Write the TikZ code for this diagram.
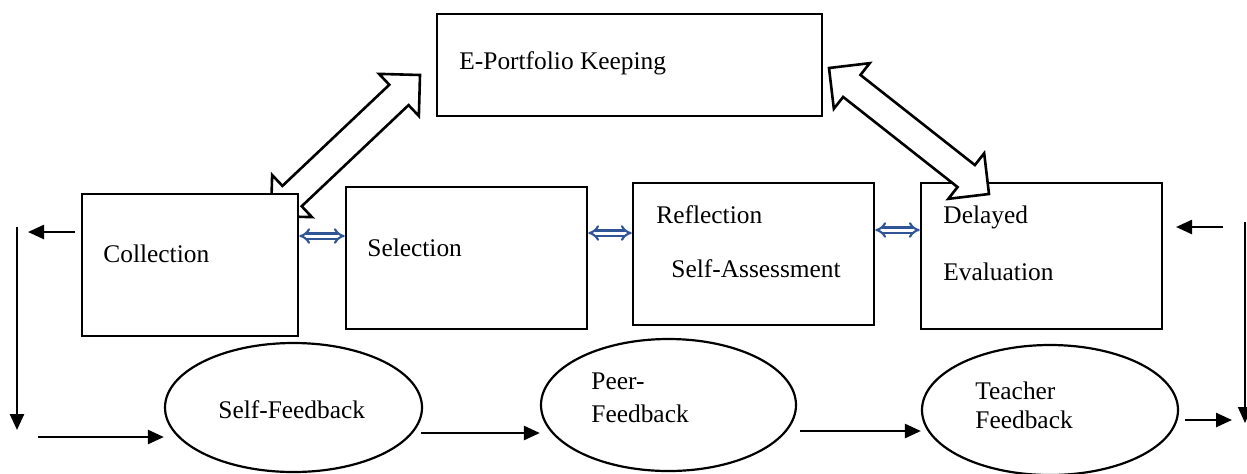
\documentclass[tikz,border=0pt]{standalone}
\usepackage{fontspec}
\setmainfont{Liberation Serif}
\usetikzlibrary{calc,arrows.meta,shapes.geometric}
\definecolor{dblue}{HTML}{2F5597}
\newcommand\dblblock[2]{%
  \coordinate (#1h) at ($(#1)!14.5pt!(#2)$);
  \coordinate (#2h) at ($(#2)!14.5pt!(#1)$);
  \draw[blk] (#1) -- ($(#1h)!14.5pt!90:(#2)$) -- ($(#1h)!7pt!90:(#2)$)
    -- ($(#2h)!7pt!-90:(#1)$) -- ($(#2h)!14.5pt!-90:(#1)$) -- (#2)
    -- ($(#2h)!14.5pt!90:(#1)$) -- ($(#2h)!7pt!90:(#1)$)
    -- ($(#1h)!7pt!-90:(#2)$) -- ($(#1h)!14.5pt!-90:(#2)$) -- cycle;}
\begin{document}
\begin{tikzpicture}[x=0.5pt,y=-0.5pt,
  box/.style={draw, line width=1.3pt, fill=white, rectangle, inner sep=0pt},
  oval/.style={draw, line width=1.1pt, ellipse, inner sep=0pt, fill=white},
  lbl/.style={anchor=west, inner sep=0pt, font=\fontsize{12.7}{15}\selectfont},
  arr/.style={line width=1.25pt, -{Triangle[length=8pt,width=7pt]}},
  dbl/.style={draw=dblue, line width=1.05pt, double=white, double distance=1.5pt, {Implies}-{Implies}},
  blk/.style={draw, fill=white, line width=1.3pt, miter limit=10}
]
\useasboundingbox (0,0) rectangle (1247,473);

% left block arrow (behind Collection box)
\coordinate (epL) at (420,75);
\coordinate (colT) at (271,216);
\dblblock{epL}{colT}

% boxes
\node[box, minimum width=192.5pt, minimum height=51pt] (ep) at (629.5,65) {};
\node[box, minimum width=108pt, minimum height=71pt] (col) at (190,265) {};
\node[box, minimum width=120.5pt, minimum height=71pt] (sel) at (466.5,258) {};
\node[box, minimum width=120.5pt, minimum height=71pt] (ref) at (753.5,254) {};
\node[box, minimum width=120.5pt, minimum height=73pt] (del) at (1041.5,256) {};

% right block arrow (over Delayed box)
\coordinate (epR) at (829,68);
\coordinate (delT) at (989,194);
\dblblock{epR}{delT}

% ellipses
\node[oval, minimum width=128.5pt, minimum height=64.5pt] (sf) at (293.5,407.5) {};
\node[oval, minimum width=127.5pt, minimum height=66pt] (pf) at (668.5,405) {};
\node[oval, minimum width=128pt, minimum height=65pt] (tf) at (1050,410) {};

% labels
\node[lbl] (tep) at (459,63) {E-Portfolio Keeping};
\node[lbl] (tcol) at (103,254) {Collection};
\node[lbl] (tsel) at (367,248) {Selection};
\node[lbl] (tref1) at (656,215) {Reflection};
\node[lbl] (tref2) at (671,269) {Self-Assessment};
\node[lbl] (tdel1) at (943,217) {Delayed};
\node[lbl] (tdel2) at (943,272) {Evaluation};
\node[lbl] (tsf) at (218,410) {Self-Feedback};
\node[lbl] (tpf1) at (591,381) {Peer-};
\node[lbl] (tpf2) at (591,414) {Feedback};
\node[lbl] (ttf1) at (975,391) {Teacher};
\node[lbl] (ttf2) at (975,420) {Feedback};

% blue double arrows
\draw[dbl] ([yshift=14.5pt]col.east) -- ([yshift=14.5pt]col.east -| sel.west);
\draw[dbl] ([yshift=12.5pt]sel.east) -- ([yshift=12.5pt]sel.east -| ref.west);
\draw[dbl] ([yshift=12pt]ref.east) -- ([yshift=12pt]ref.east -| del.west);

% black arrows
\coordinate (l1) at (75,232);
\coordinate (l2) at (28,232);
\coordinate (l3) at (17,227);
\coordinate (l4) at (17,430);
\coordinate (l5) at (38,437);
\draw[arr] (l1) -- (l2);
\draw[arr] (l3) -- (l4);
\draw[arr] (l5) -- (l5 -| sf.west);
\coordinate (s1) at (421,433);
\draw[arr] (s1) -- (s1 -| pf.west);
\coordinate (p1) at (800,431);
\draw[arr] (p1) -- (p1 -| tf.west);
\coordinate (r1) at (1185,420);
\coordinate (r2) at (1232,420);
\draw[arr] (r1) -- (r2);
\coordinate (r3) at (1245,222);
\coordinate (r4) at (1245,423);
\draw[arr, line width=0.9pt] (r3) -- (r4);
\coordinate (r5) at (1223,227);
\coordinate (r6) at (1176,227);
\draw[arr] (r5) -- (r6);
\end{tikzpicture}
\end{document}
